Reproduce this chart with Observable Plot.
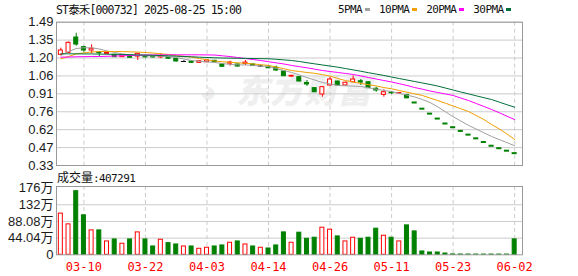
<!DOCTYPE html>
<html><head><meta charset="utf-8">
<script src="https://cdn.jsdelivr.net/npm/d3@7"></script>
<script src="https://cdn.jsdelivr.net/npm/@observablehq/plot@0.6"></script>
<style>
body{margin:0;background:#fff;}
#wrap{position:relative;width:578px;height:276px;overflow:hidden;background:#fff;}
#wrap svg{position:absolute;left:0;top:0;background:transparent !important;}
.t{position:absolute;font-family:"DejaVu Sans Mono","Liberation Mono","Noto Sans CJK SC",monospace;font-size:11px;letter-spacing:-0.6px;color:#111;white-space:nowrap;line-height:12px;}
.cj{font-family:"Noto Sans CJK SC",sans-serif;font-size:12px;letter-spacing:0;}
.sq{display:inline-block;width:5px;height:3px;margin:0 9px 2px 3px;vertical-align:middle;}
.wm{position:absolute;top:71px;font-family:"Noto Sans CJK SC",sans-serif;font-weight:900;font-style:italic;color:#efefef;white-space:nowrap;line-height:36px;}
</style></head>
<body>
<div id="wrap">
  <div class="wm" style="left:199px;font-size:30px;">◕</div>
  <div class="wm" style="left:236px;font-size:33px;letter-spacing:1px;">东方财富</div>
  <svg width="300" height="20" style="z-index:2"><text x="56" y="14" textLength="186" lengthAdjust="spacing"
    font-family="'DejaVu Sans Mono','Liberation Mono','Noto Sans CJK SC',monospace" font-size="11.5" fill="#111">ST泰禾[000732] 2025-08-25 15:00</text></svg>
  <div class="t" id="legend" style="left:338px;top:4px;"></div>
  <div class="t" style="left:57px;top:171px;"><span class="cj">成交量</span>:407291</div>
</div>
<script>
// ---- data ----
const opens  = [1.226,1.242,1.366,1.288,1.261,1.247,1.234,1.226,1.207,1.218,1.212,1.214,1.210,1.205,1.201,1.193,1.172,1.172,1.161,1.166,
                1.178,1.148,1.155,1.148,1.152,1.148,1.135,1.131,1.121,1.091,1.050,1.045,0.998,0.956,0.905,0.978,1.010,0.978,1.004,1.012,
                1.004,0.951,0.902,0.920,0.914,0.901,0.84,0.79,0.75,0.71,0.67,0.64,0.61,0.58,0.55,0.52,0.49,0.47,0.45,0.43];
const closes = [1.261,1.323,1.309,1.261,1.275,1.239,1.242,1.207,1.220,1.202,1.234,1.205,1.205,1.215,1.194,1.172,1.172,1.161,1.174,1.180,
                1.166,1.129,1.163,1.131,1.163,1.135,1.135,1.117,1.099,1.053,1.056,1.010,0.986,0.923,0.964,1.026,0.978,1.000,1.026,1.002,
                0.956,0.937,0.923,0.915,0.917,0.874,0.84,0.79,0.75,0.71,0.67,0.64,0.61,0.58,0.55,0.52,0.49,0.47,0.45,0.43];
const highs  = [1.280,1.330,1.400,1.296,1.307,1.250,1.255,1.230,1.222,1.222,1.236,1.218,1.212,1.234,1.206,1.195,1.178,1.175,1.176,1.184,
                1.180,1.152,1.174,1.150,1.180,1.150,1.142,1.133,1.135,1.093,1.060,1.048,1.018,0.960,0.966,1.045,1.012,1.004,1.054,1.026,
                1.006,0.964,0.943,0.930,0.920,0.905,0.84,0.79,0.75,0.71,0.67,0.64,0.61,0.58,0.55,0.52,0.49,0.47,0.45,0.43];
const lows   = [1.222,1.237,1.296,1.247,1.234,1.212,1.232,1.205,1.205,1.200,1.180,1.200,1.198,1.195,1.190,1.168,1.166,1.158,1.158,1.163,
                1.163,1.126,1.134,1.128,1.139,1.131,1.130,1.114,1.091,1.050,1.046,1.006,0.970,0.920,0.883,0.975,0.975,0.975,1.002,0.978,
                0.954,0.923,0.883,0.905,0.910,0.870,0.84,0.79,0.75,0.71,0.67,0.64,0.61,0.58,0.55,0.52,0.49,0.47,0.45,0.43];
const volumes = [108.8,80.4,168,104.3,64.5,64.5,35.3,40.6,29.2,40.6,59.2,40.6,22.0,39.8,30.8,27.3,22.0,22.0,15.9,18.6,
                 22.0,24.7,31.8,35.3,27.3,22.0,18.6,16.7,24.7,59.2,31.8,58.4,42.4,45.1,71.6,66.3,48.6,35.3,45.1,42.4,
                 45.1,69.0,50.4,45.1,35.3,77.7,61.8,8.8,6.1,6.1,3.4,1.0,0.8,0.7,0.6,0.6,0.7,0.6,0.6,40.7291];
const ma5  = [1.220,1.253,1.277,1.283,1.283,1.273,1.257,1.245,1.233,1.225,1.220,1.218,1.216,1.215,1.211,1.204,1.192,1.180,1.174,1.169,
              1.164,1.156,1.148,1.145,1.144,1.140,1.135,1.131,1.115,1.099,1.083,1.063,1.042,1.022,1.002,0.990,0.978,0.975,0.973,0.970,
              0.959,0.948,0.937,0.929,0.914,0.900,0.885,0.864,0.840,0.805,0.765,0.725,0.690,0.655,0.625,0.595,0.565,0.540,0.515,0.490];
const ma10 = [1.194,1.212,1.233,1.242,1.249,1.253,1.253,1.253,1.252,1.250,1.248,1.245,1.240,1.234,1.229,1.220,1.214,1.207,1.196,1.186,
              1.176,1.170,1.165,1.161,1.158,1.152,1.146,1.140,1.127,1.113,1.099,1.091,1.083,1.076,1.066,1.054,1.034,1.018,1.006,0.995,
              0.984,0.974,0.961,0.951,0.937,0.923,0.910,0.897,0.876,0.856,0.834,0.812,0.789,0.767,0.735,0.702,0.662,0.626,0.585,0.541];
const ma20 = [1.207,1.208,1.210,1.211,1.212,1.212,1.214,1.216,1.218,1.220,1.223,1.225,1.225,1.225,1.226,1.226,1.226,1.226,1.226,1.225,
              1.224,1.218,1.212,1.204,1.196,1.188,1.180,1.170,1.161,1.152,1.140,1.130,1.121,1.110,1.099,1.091,1.083,1.075,1.067,1.055,
              1.042,1.030,1.018,1.006,0.992,0.978,0.961,0.948,0.933,0.921,0.909,0.897,0.876,0.856,0.832,0.808,0.783,0.757,0.729,0.702];
const ma30 = [1.234,1.234,1.234,1.233,1.233,1.232,1.231,1.230,1.229,1.227,1.225,1.224,1.222,1.220,1.218,1.215,1.212,1.210,1.207,1.204,
              1.202,1.200,1.199,1.198,1.197,1.196,1.195,1.194,1.190,1.185,1.180,1.172,1.162,1.153,1.144,1.135,1.126,1.115,1.104,1.093,
              1.081,1.070,1.059,1.046,1.034,1.022,1.010,0.998,0.986,0.973,0.957,0.941,0.925,0.910,0.894,0.879,0.864,0.843,0.822,0.802];
const dateTickIdx = [3,11,19,27,35,43,51,59];
const dateTickLabels = ["03-10","03-22","04-03","04-14","04-26","05-11","05-23","06-02"];
const priceTicks = [0.33,0.475,0.62,0.765,0.91,1.055,1.2,1.345,1.49];
const priceTickLabels = ["0.33","0.47","0.62","0.76","0.91","1.06","1.20","1.35","1.49"];
const volTicks = [0,44.04,88.08,132.12,176.16];
const volTickLabels = ["0","44.04万","88.08万","132万","176万"];
const maNames = ["5PMA","10PMA","20PMA","30PMA"];
const maColors = ["#a0a0a0","#f0a000","#ff00ff","#006f3a"];

// ---- build ----
const RED = "#ff0000", GREEN = "#008000";
const rows = opens.map((o,i)=>{
  const c = closes[i], prev = i>0 ? closes[i-1] : o;
  let col;
  if (c > o) col = RED; else if (c < o) col = GREEN;
  else col = c < prev ? GREEN : (c > prev ? RED : "#000000");
  const volUp = c > o || (c === o && c >= prev);
  return {i, open:o, close:c, high:highs[i], low:lows[i], vol:volumes[i], col,
          up: c > o, flat: c === o, limit: c===o && highs[i]===lows[i], volUp};
});
const maRows = [];
[ma5,ma10,ma20,ma30].forEach((arr,k)=>arr.forEach((v,i)=>maRows.push({i, v, s: maNames[k], c: maColors[k]})));

const legend = document.getElementById("legend");
legend.innerHTML = maNames.map((n,k)=>`${n}<span class="sq" style="background:${maColors[k]}"></span>`).join("");

const font = "'Liberation Sans','Noto Sans CJK SC',sans-serif";
const pLab = new Map(priceTicks.map((t,k)=>[t,priceTickLabels[k]]));
const vLab = new Map(volTicks.map((t,k)=>[t,volTickLabels[k]]));
const dLab = new Map(dateTickIdx.map((t,k)=>[t,dateTickLabels[k]]));
const xScale = () => ({type:"band", domain:d3.range(60), range:[56.5,518], padding:0, label:null, axis:null});

const main = Plot.plot({
  width:578, height:170, marginLeft:56, marginRight:56, marginTop:21.7, marginBottom:5,
  style:{background:"transparent", fontFamily:font, overflow:"visible"},
  x: xScale(),
  y: {domain:[0.33,1.49], label:null},
  color: {type:"identity"},
  marks: [
    Plot.gridY(priceTicks, {stroke:"#cccccc", strokeOpacity:1}),
    Plot.gridX(dateTickIdx, {stroke:"#cccccc", strokeOpacity:1, strokeDasharray:"4,3"}),
    Plot.ruleX(rows.filter(d=>!d.limit), {x:"i", y1:"low", y2:"high", stroke:"col"}),
    Plot.barY(rows.filter(d=>!d.flat), {x:"i", y1:"open", y2:"close", fill:d=>d.up?"#ffffff":GREEN, stroke:"col", insetLeft:1.85, insetRight:1.85}),
    Plot.tickY(rows.filter(d=>d.flat), {x:"i", y:"close", stroke:"col", strokeWidth:d=>d.limit?2:1, insetLeft:1.3, insetRight:1.3}),
    Plot.line(maRows, {x:"i", y:"v", z:"s", stroke:"c", strokeWidth:1}),
    Plot.frame({stroke:"#999999"}),
    Plot.axisY(priceTicks, {tickSize:0, tickPadding:3, fontSize:13, fill:"#1a1a1a", label:null, tickFormat:d=>pLab.get(d)})
  ]
});
main.style.top = "0px";
document.getElementById("wrap").appendChild(main);

const vol = Plot.plot({
  width:578, height:106, marginLeft:56, marginRight:56, marginTop:16, marginBottom:21.7,
  style:{background:"transparent", fontFamily:font, overflow:"visible"},
  x: xScale(),
  y: {domain:[0,176.16], range:[84.3,17.6], label:null},
  color: {type:"identity"},
  marks: [
    Plot.gridY([44.04,88.08,132.12], {stroke:"#cccccc", strokeOpacity:1}),
    Plot.gridX(dateTickIdx, {stroke:"#cccccc", strokeOpacity:1, strokeDasharray:"4,3"}),
    Plot.barY(rows, {x:"i", y:"vol", fill:d=>d.volUp?"#ffffff":GREEN, stroke:d=>d.volUp?RED:GREEN, insetLeft:1.85, insetRight:1.85}),
    Plot.frame({stroke:"#999999"}),
    Plot.axisY(volTicks, {tickSize:0, tickPadding:3, fontSize:13, fill:"#1a1a1a", label:null, tickFormat:d=>vLab.get(d)}),
    Plot.axisX(dateTickIdx, {tickSize:0, tickPadding:8, fontSize:12, fill:RED, label:null, fontFamily:"'DejaVu Sans Mono','Liberation Mono',monospace", tickFormat:d=>dLab.get(d)})
  ]
});
vol.style.top = "170px";
document.getElementById("wrap").appendChild(vol);
</script>
</body></html>
